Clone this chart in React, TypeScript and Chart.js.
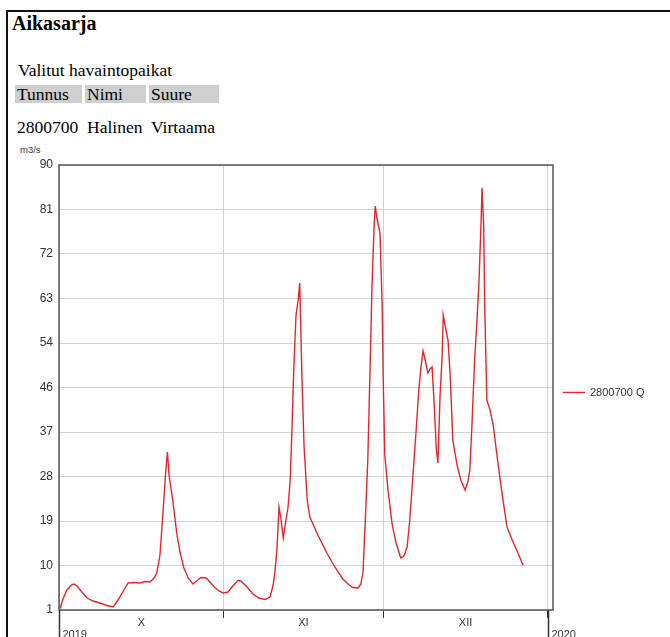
import React, { useEffect, useRef } from "react";
import { Chart, registerables } from "chart.js";

Chart.register(...registerables);

const SERIES_LABEL = "2800700 Q";
const SERIES_COLOR = "#e3262d";

// days since 1 Oct 2019
const DAYS = [
  0.2, 0.75, 1.5, 2.3, 2.8, 3.4, 4.3, 5.3, 6.4, 7.7, 9.0, 10.2, 11.1, 12.0, 13.0, 14.1, 15.2, 16.2, 17.1, 17.9,
  18.4, 19.0, 19.6, 20.1, 20.4, 20.7, 21.4, 22.2, 22.8, 23.5, 24.3, 25.2, 26.0, 26.7, 27.7, 28.4, 29.2, 30.1, 30.9, 31.8,
  32.7, 33.7, 34.2, 35.4, 36.5, 37.6, 38.8, 39.7, 40.3, 40.6, 41.0, 41.4, 41.8, 42.2, 42.7, 43.1, 43.5, 43.8, 44.2, 44.6,
  45.0, 45.3, 45.7, 46.1, 46.7, 47.2, 48.7, 50.4, 51.9, 53.4, 54.6, 55.3, 56.3, 56.8, 57.2, 57.6, 58.1, 58.5, 58.9, 59.3,
  59.5, 59.8, 60.4, 60.8, 61.0, 61.3, 61.9, 62.7, 63.4, 64.3, 64.9, 65.5, 66.0, 66.6, 67.2, 67.7, 68.1, 68.5, 69.0, 69.4,
  69.8, 70.2, 70.6, 71.0, 71.3, 71.7, 72.1, 72.3, 72.8, 73.2, 73.6, 74.1, 74.9, 75.6, 76.4, 76.9, 77.3, 77.7, 78.2, 78.6,
  79.0, 79.4, 79.6, 79.9, 80.1, 80.5, 81.1, 81.7, 82.4, 83.4, 84.3, 85.2, 86.2, 87.3,
];
// m3/s
const FLOW = [
  1.3, 3.2, 5.0, 6.0, 6.2, 5.8, 4.6, 3.4, 2.8, 2.4, 1.9, 1.6, 3.0, 4.6, 6.4, 6.5, 6.4, 6.7, 6.6, 7.4,
  8.4, 12, 21, 29, 32.6, 28, 23, 16, 12.4, 9.4, 7.4, 6.2, 6.9, 7.5, 7.4, 6.6, 5.6, 4.8, 4.4, 4.6,
  5.8, 6.9, 6.8, 5.6, 4.2, 3.4, 3.1, 3.6, 6, 8.4, 13, 21.6, 19, 15.4, 19, 21.6, 27, 36, 50, 60,
  63, 66.4, 48, 34, 23, 19.6, 16, 12.4, 9.6, 7.2, 6.0, 5.5, 5.4, 6.2, 8.6, 18, 31, 48, 66, 78,
  81.8, 79.5, 76.4, 62, 47.6, 32, 25, 18, 14.5, 11.4, 11.8, 13.6, 19, 28, 37, 45, 49.5, 52.8, 50.5, 48.4,
  49.2, 49.6, 42, 33, 30.4, 44, 52, 60, 57, 55, 48, 35, 30, 27, 25, 26.5, 29, 38, 51, 58,
  66, 78, 85.4, 78, 62, 43, 41, 38, 32, 24, 17.6, 15.2, 12.8, 10,
];

const Y_MIN = 1;
const Y_MAX = 90;
const Y_STEP = 8.9;
const X_MIN = 0;
const X_MAX = 92.95;
const MONTH_TICKS = [0, 15.5, 31, 46, 61, 76.5, 92];
const MONTH_LABELS = ["", "X", "", "XI", "", "XII", ""];
const MONTH_BOUNDARY = [true, false, true, false, true, false, true];
const YEAR_TICKS = [0, 92];
const YEAR_LABELS = ["2019", "2020"];

const TITLE = "Aikasarja";
const SUBTITLE = "Valitut havaintopaikat";
const TABLE_HEAD = ["Tunnus", "Nimi", "Suure"];
const TABLE_ROW = ["2800700", "Halinen", "Virtaama"];
const UNIT = "m3/s";

const SANS = "'Liberation Sans', Arial, sans-serif";
const SERIF = "'Liberation Serif', 'Times New Roman', serif";

const framePlugin = {
  id: "frame",
  afterDraw(chart: any) {
    const { ctx, chartArea: a, scales } = chart;
    ctx.save();
    ctx.strokeStyle = "#555";
    ctx.lineWidth = 1.5;
    ctx.strokeRect(a.left, a.top, a.right - a.left, a.bottom - a.top);

    const xs = scales.x;
    ctx.font = `11px ${SANS}`;
    YEAR_TICKS.forEach((v, i) => {
      const px = Math.round(xs.getPixelForValue(v)) + 0.5;
      ctx.strokeStyle = "#333";
      ctx.lineWidth = 1.5;
      ctx.beginPath();
      ctx.moveTo(px, a.bottom);
      ctx.lineTo(px, a.bottom + 27);
      ctx.stroke();
      ctx.fillStyle = "#333";
      ctx.textAlign = "left";
      ctx.textBaseline = "alphabetic";
      ctx.fillText(YEAR_LABELS[i], px + 3, a.bottom + 28);
    });

    const ds = chart.data.datasets[0];
    const ly = Math.round((a.top + a.bottom) / 2 + 4) + 0.5;
    ctx.strokeStyle = ds.borderColor;
    ctx.lineWidth = 1.5;
    ctx.beginPath();
    ctx.moveTo(a.right + 10, ly);
    ctx.lineTo(a.right + 32, ly);
    ctx.stroke();
    ctx.fillStyle = "#333";
    ctx.textAlign = "left";
    ctx.textBaseline = "middle";
    ctx.fillText(ds.label, a.right + 37, ly);
    ctx.restore();
  },
};

function FlowChart() {
  const ref = useRef<HTMLCanvasElement | null>(null);
  useEffect(() => {
    if (!ref.current) return;
    const chart = new Chart(ref.current, {
      type: "line",
      data: {
        datasets: [
          {
            label: SERIES_LABEL,
            data: DAYS.map((d, i) => ({ x: d, y: FLOW[i] })),
            borderColor: SERIES_COLOR,
            borderWidth: 1.4,
            pointRadius: 0,
            tension: 0,
            fill: false,
          },
        ],
      },
      options: {
        animation: false,
        responsive: false,
        layout: { padding: { top: 25, right: 117, bottom: 0, left: 0 } },
        plugins: { legend: { display: false }, tooltip: { enabled: false } },
        scales: {
          x: {
            type: "linear",
            min: X_MIN,
            max: X_MAX,
            afterBuildTicks: (s: any) => {
              s.ticks = MONTH_TICKS.map((v) => ({ value: v }));
            },
            afterFit: (s: any) => {
              s.height = 27;
            },
            border: { display: false },
            grid: {
              color: (c: any) => (MONTH_BOUNDARY[c.index] ? "#d2d2d2" : "rgba(0,0,0,0)"),
              tickColor: (c: any) => (MONTH_BOUNDARY[c.index] ? "#333" : "rgba(0,0,0,0)"),
              tickLength: 8,
              lineWidth: 1,
            },
            ticks: {
              autoSkip: false,
              maxRotation: 0,
              padding: -2,
              color: "#333",
              font: { family: SANS, size: 11 },
              callback: (_v: any, i: number) => MONTH_LABELS[i],
            },
          },
          y: {
            type: "linear",
            min: Y_MIN,
            max: Y_MAX,
            afterFit: (s: any) => {
              s.width = 59;
            },
            border: { display: false },
            grid: { color: "#d2d2d2", drawTicks: false, lineWidth: 1 },
            ticks: {
              stepSize: Y_STEP,
              padding: 6,
              color: "#333",
              font: { family: SANS, size: 12 },
              callback: (v: any) => String(Math.round(Number(v))),
            },
          },
        },
      },
      plugins: [framePlugin],
    } as any);
    return () => chart.destroy();
  }, []);
  return (
    <canvas
      ref={ref}
      width={670}
      height={497}
      style={{ position: "absolute", left: 0, top: 140, width: 670, height: 497, display: "block" }}
    />
  );
}

const cellLefts = [15, 85, 149];
const cellWidths = [67, 61, 70];
const TXT = 17.5;

export default function App() {
  return (
    <div>
      <div
        style={{
          position: "absolute",
          left: 6,
          top: 10,
          width: 664,
          height: 627,
          boxSizing: "border-box",
          borderTop: "2px solid #111",
          borderLeft: "2px solid #111",
        }}
      />
      <div
        style={{
          position: "absolute",
          left: 12,
          top: 12.3,
          fontFamily: SERIF,
          fontWeight: "bold",
          fontSize: 20,
          lineHeight: "22px",
          color: "#000",
          whiteSpace: "nowrap",
        }}
      >
        {TITLE}
      </div>
      <div
        style={{
          position: "absolute",
          left: 18,
          top: 61.1,
          fontFamily: SERIF,
          fontSize: TXT,
          lineHeight: "18px",
          color: "#000",
          whiteSpace: "nowrap",
        }}
      >
        {SUBTITLE}
      </div>
      {TABLE_HEAD.map((h, i) => (
        <div
          key={"h" + i}
          style={{
            position: "absolute",
            left: cellLefts[i],
            top: 85,
            width: cellWidths[i],
            height: 18,
            background: "#cfcfcf",
            fontFamily: SERIF,
            fontSize: TXT,
            lineHeight: "18px",
            color: "#000",
            paddingLeft: 2,
            boxSizing: "border-box",
            whiteSpace: "nowrap",
          }}
        >
          {h}
        </div>
      ))}
      {TABLE_ROW.map((h, i) => (
        <div
          key={"r" + i}
          style={{
            position: "absolute",
            left: cellLefts[i],
            top: 118.1,
            height: 18,
            fontFamily: SERIF,
            fontSize: TXT,
            lineHeight: "18px",
            color: "#000",
            paddingLeft: 2,
            whiteSpace: "nowrap",
          }}
        >
          {h}
        </div>
      ))}
      <div
        style={{
          position: "absolute",
          left: 20,
          top: 145,
          fontFamily: SANS,
          fontSize: 9.5,
          lineHeight: "10px",
          color: "#333",
          whiteSpace: "nowrap",
        }}
      >
        {UNIT}
      </div>
      <FlowChart />
    </div>
  );
}
